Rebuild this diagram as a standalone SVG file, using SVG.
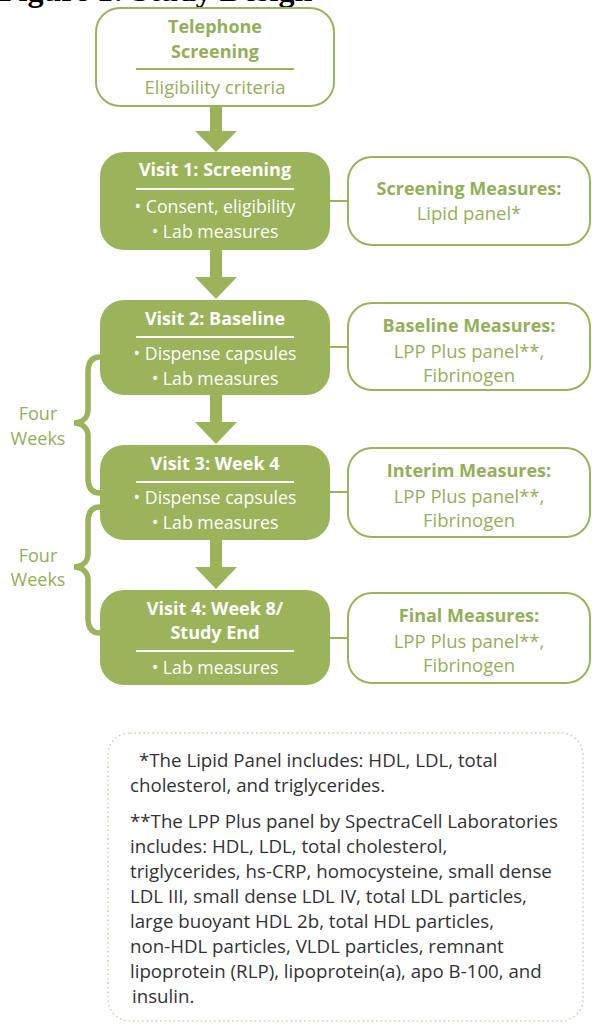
<svg xmlns="http://www.w3.org/2000/svg" width="592" height="1025" viewBox="0 0 592 1025">
<style>
.fill{fill:#9bb35a}
.out{fill:#ffffff;stroke:#9bb35a;stroke-width:2}
.wt{fill:#ffffff;font-family:"Open Sans","Noto Sans",sans-serif;font-size:17.7px;text-anchor:middle}
.wb{fill:#ffffff;font-family:"Open Sans","Noto Sans",sans-serif;font-size:18px;font-weight:700;text-anchor:middle}
.gt{fill:#93b058;font-family:"Open Sans","Noto Sans",sans-serif;font-size:18.5px;text-anchor:middle}
.gb{fill:#93b058;font-family:"Open Sans","Noto Sans",sans-serif;font-size:18px;font-weight:700;text-anchor:middle}
.fw{fill:#93b058;font-family:"Open Sans","Noto Sans",sans-serif;font-size:18px;text-anchor:middle}
.wl{stroke:#ffffff;stroke-width:2}
.gl{stroke:#9bb35a;stroke-width:2}
.con{stroke:#9bb35a;stroke-width:2;fill:none}
.brace{stroke:#9bb35a;stroke-width:5.5;fill:none;stroke-linecap:round}
.ft{fill:#333333;font-family:"Open Sans","Noto Sans",sans-serif;font-size:18.7px}
</style>
<text x="-1" y="1" font-family="Liberation Serif,serif" font-weight="700" font-size="32" fill="#000">Figure 1: Study Design</text>

<g id="connectors">
<path class="fill" d="M210,106 H222 V131 H237 L216,152 L195,131 H210 Z"/>
<path class="fill" d="M210,250 H222 V277 H237 L216,299 L195,277 H210 Z"/>
<path class="fill" d="M210,395 H222 V422 H237 L216,444 L195,422 H210 Z"/>
<path class="fill" d="M210,540 H222 V567 H237 L216,589 L195,567 H210 Z"/>
<line class="con" x1="330" y1="201" x2="348" y2="201"/>
<line class="con" x1="330" y1="347" x2="348" y2="347"/>
<line class="con" x1="330" y1="492" x2="348" y2="492"/>
<line class="con" x1="330" y1="638" x2="348" y2="638"/>
<path class="brace" d="M100,357 C92,357 88,362 88,372 L88,410 C88,418 82,423 74,423 C82,423 88,428 88,436 L88,478 C88,488 92,493 100,493"/>
<path class="brace" d="M100,507 C92,507 88,512 88,522 L88,554 C88,562 82,567 74,567 C82,567 88,572 88,580 L88,618 C88,628 92,633 100,633"/>
</g>

<g id="telephone">
<rect class="out" x="96" y="8" width="238" height="98" rx="24"/>
<text class="gb" x="215" y="33">Telephone</text>
<text class="gb" x="215" y="58">Screening</text>
<line class="gl" x1="136" y1="69" x2="294" y2="69"/>
<text class="gt" x="215" y="94">Eligibility criteria</text>
</g>

<g id="visit1">
<rect class="fill" x="100" y="152" width="230" height="98" rx="24"/>
<text class="wb" x="215" y="176">Visit 1: Screening</text>
<line class="wl" x1="136" y1="189" x2="294" y2="189"/>
<text class="wt" x="215" y="213">• Consent, eligibility</text>
<text class="wt" x="215" y="238">• Lab measures</text>
</g>

<g id="screening-measures">
<rect class="out" x="348" y="157" width="242" height="88" rx="24"/>
<text class="gb" x="469" y="195">Screening Measures:</text>
<text class="gt" x="469" y="220">Lipid panel*</text>
</g>

<g id="visit2">
<rect class="fill" x="100" y="300" width="230" height="95" rx="24"/>
<text class="wb" x="215" y="325">Visit 2: Baseline</text>
<line class="wl" x1="136" y1="337" x2="294" y2="337"/>
<text class="wt" x="215" y="360">• Dispense capsules</text>
<text class="wt" x="215" y="385">• Lab measures</text>
</g>

<g id="baseline-measures">
<rect class="out" x="348" y="303" width="242" height="87" rx="24"/>
<text class="gb" x="469" y="332">Baseline Measures:</text>
<text class="gt" x="469" y="358">LPP Plus panel**,</text>
<text class="gt" x="469" y="382">Fibrinogen</text>
</g>

<g id="visit3">
<rect class="fill" x="100" y="445" width="230" height="95" rx="24"/>
<text class="wb" x="215" y="470">Visit 3: Week 4</text>
<line class="wl" x1="136" y1="482" x2="294" y2="482"/>
<text class="wt" x="215" y="504">• Dispense capsules</text>
<text class="wt" x="215" y="529">• Lab measures</text>
</g>

<g id="interim-measures">
<rect class="out" x="348" y="448" width="242" height="89" rx="24"/>
<text class="gb" x="469" y="477">Interim Measures:</text>
<text class="gt" x="469" y="503">LPP Plus panel**,</text>
<text class="gt" x="469" y="527">Fibrinogen</text>
</g>

<g id="visit4">
<rect class="fill" x="100" y="590" width="230" height="95" rx="24"/>
<text class="wb" x="215" y="615">Visit 4: Week 8/</text>
<text class="wb" x="215" y="639">Study End</text>
<line class="wl" x1="136" y1="651" x2="294" y2="651"/>
<text class="wt" x="215" y="674">• Lab measures</text>
</g>

<g id="final-measures">
<rect class="out" x="348" y="593" width="242" height="90" rx="24"/>
<text class="gb" x="469" y="622">Final Measures:</text>
<text class="gt" x="469" y="648">LPP Plus panel**,</text>
<text class="gt" x="469" y="672">Fibrinogen</text>
</g>

<g id="four-weeks-1">
<text class="fw" x="38" y="420">Four</text>
<text class="fw" x="38" y="445">Weeks</text>
</g>
<g id="four-weeks-2">
<text class="fw" x="38" y="562">Four</text>
<text class="fw" x="38" y="586">Weeks</text>
</g>

<g id="footnote">
<rect x="108" y="733" width="475" height="288" rx="22" fill="none" stroke="#c9d0a9" stroke-width="1.5" stroke-dasharray="1.5 3"/>
<text class="ft" x="132" y="767"><tspan x="139">*The Lipid Panel includes: HDL, LDL, total</tspan><tspan x="130" y="792">cholesterol, and triglycerides.</tspan><tspan x="130" y="828">**The LPP Plus panel by SpectraCell Laboratories</tspan><tspan x="130" y="853">includes: HDL, LDL, total cholesterol,</tspan><tspan x="130" y="878">triglycerides, hs-CRP, homocysteine, small dense</tspan><tspan x="130" y="903">LDL III, small dense LDL IV, total LDL particles,</tspan><tspan x="130" y="928">large buoyant HDL 2b, total HDL particles,</tspan><tspan x="130" y="953">non-HDL particles, VLDL particles, remnant</tspan><tspan x="130" y="978">lipoprotein (RLP), lipoprotein(a), apo B-100, and</tspan><tspan x="132" y="1003">insulin.</tspan></text>
</g>
</svg>
